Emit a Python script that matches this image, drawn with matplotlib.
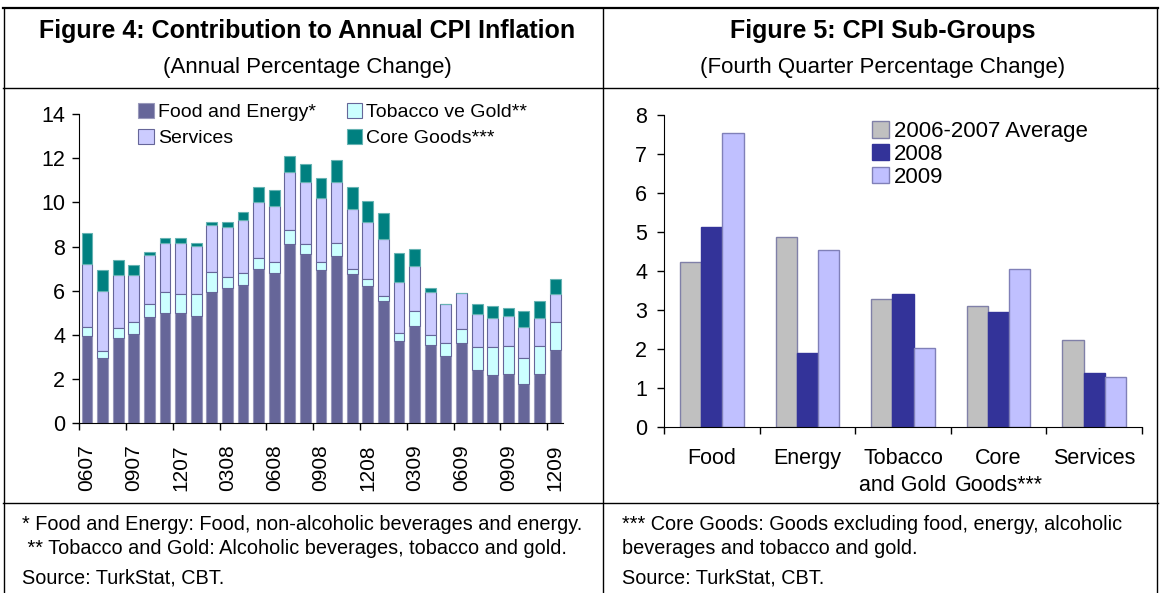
import numpy as np
import matplotlib
matplotlib.use('Agg')
import matplotlib.pyplot as plt
from matplotlib.lines import Line2D

plt.rcParams['font.family'] = ['Liberation Sans', 'DejaVu Sans']

# Figure 4 data: monthly contributions, 06/2007 - 12/2009
months = ['0607', '0707', '0807', '0907', '1007', '1107', '1207', '0108', '0208', '0308',
          '0408', '0508', '0608', '0708', '0808', '0908', '1008', '1108', '1208', '0109',
          '0209', '0309', '0409', '0509', '0609', '0709', '0809', '0909', '1009', '1109', '1209']
food_energy = [3.95, 2.97, 3.86, 4.03, 4.83, 4.98, 4.98, 4.87, 5.96, 6.11, 6.26, 6.98, 6.79, 8.11, 7.65, 6.94,
               7.57, 6.74, 6.21, 5.55, 3.74, 4.42, 3.53, 3.06, 3.62, 2.41, 2.19, 2.25, 1.78, 2.25, 3.32]
tobacco_gold = [0.42, 0.32, 0.47, 0.54, 0.55, 0.96, 0.86, 0.98, 0.87, 0.53, 0.56, 0.49, 0.53, 0.64, 0.45, 0.38,
                0.60, 0.23, 0.31, 0.23, 0.33, 0.65, 0.47, 0.56, 0.63, 1.03, 1.25, 1.26, 1.19, 1.26, 1.25]
services = [2.84, 2.71, 2.38, 2.14, 2.25, 2.23, 2.33, 2.17, 2.16, 2.26, 2.38, 2.54, 2.53, 2.64, 2.80, 2.86,
            2.73, 2.73, 2.61, 2.56, 2.33, 2.06, 1.93, 1.76, 1.63, 1.51, 1.34, 1.36, 1.40, 1.27, 1.27]
core_goods = [1.42, 0.94, 0.70, 0.45, 0.11, 0.22, 0.22, 0.12, 0.12, 0.21, 0.38, 0.70, 0.71, 0.71, 0.83, 0.94,
              1.02, 1.01, 0.95, 1.16, 1.32, 0.74, 0.19, 0.00, 0.00, 0.45, 0.54, 0.36, 0.71, 0.77, 0.69]

# Figure 5 data
groups = ['Food', 'Energy', 'Tobacco\nand Gold', 'Core\nGoods***', 'Services']
avg_0607 = [4.22, 4.87, 3.27, 3.09, 2.22]
y2008 = [5.12, 1.88, 3.40, 2.94, 1.39]
y2009 = [7.55, 4.53, 2.01, 4.06, 1.28]

fig = plt.figure(figsize=(11.61, 5.93), dpi=100)

# ---- left chart ----
ax1 = fig.add_axes([0.0682, 0.2862, 0.4166, 0.5216])
x = np.arange(len(months))
w = 0.7
fe = np.array(food_energy)
tg = np.array(tobacco_gold)
sv = np.array(services)
cg = np.array(core_goods)
ax1.bar(x, fe, w, color='#666699', edgecolor='#9999bb', linewidth=0.8, label='Food and Energy*')
ax1.bar(x, sv, w, bottom=fe + tg, color='#ccccff', edgecolor='#666699', linewidth=0.8, label='Services')
ax1.bar(x, tg, w, bottom=fe, color='#ccffff', edgecolor='#666699', linewidth=0.8, label='Tobacco ve Gold**')
ax1.bar(x, cg, w, bottom=fe + tg + sv, color='#008080', edgecolor='#66b3b3', linewidth=0.8, label='Core Goods***')
ax1.set_xlim(-0.5, 30.5)
ax1.set_ylim(0, 14)
ax1.set_yticks(range(0, 15, 2))
ax1.set_xticks(x[::3])
ax1.set_xticklabels(months[::3], rotation=90)
ax1.set_xticks(np.arange(-0.5, 30, 3), minor=True)
ax1.tick_params(axis='x', which='major', length=0, labelsize=15, pad=15)
ax1.tick_params(axis='x', which='minor', length=5, width=1)
ax1.tick_params(axis='y', length=5, width=1, labelsize=15.5, pad=5)
for s in ['top', 'right']:
    ax1.spines[s].set_visible(False)
ax1.legend(ncol=2, loc='upper left', bbox_to_anchor=(0.122, 1.035), frameon=False, fontsize=14,
           handlelength=0.8, handleheight=0.8, handletextpad=0.2, columnspacing=1.6, labelspacing=0.4,
           borderaxespad=0, borderpad=0)

# ---- right chart ----
ax2 = fig.add_axes([664 / 1161, 0.2804, 478 / 1161, 0.5256])
gx = np.arange(len(groups))
bw = 1 / 4.5
ax2.bar(gx - bw, avg_0607, bw, color='#c0c0c0', edgecolor='#8080a8', linewidth=1, label='2006-2007 Average')
ax2.bar(gx, y2008, bw, color='#333399', edgecolor='#333399', linewidth=1, label='2008')
ax2.bar(gx + bw, y2009, bw, color='#c0c0ff', edgecolor='#8080b8', linewidth=1, label='2009')
ax2.set_xlim(-0.5, 4.5)
ax2.set_ylim(0, 8)
ax2.set_yticks(range(0, 9))
ax2.set_xticks(gx)
ax2.set_xticklabels(groups, linespacing=1.4)
ax2.set_xticks(np.arange(-0.5, 5, 1), minor=True)
ax2.tick_params(axis='x', which='major', length=0, labelsize=15.5, pad=15)
ax2.tick_params(axis='x', which='minor', length=5, width=1)
ax2.tick_params(axis='y', length=5, width=1, labelsize=15.5, pad=7)
for s in ['top', 'right']:
    ax2.spines[s].set_visible(False)
ax2.legend(loc='upper left', bbox_to_anchor=(0.435, 0.98), frameon=False, fontsize=16,
           handlelength=0.75, handleheight=0.75, handletextpad=0.25, labelspacing=0.08,
           borderaxespad=0, borderpad=0)

# ---- table frame ----
W, H = 1161, 593
def hline(y, x0, x1, lw=1.0):
    fig.add_artist(Line2D([x0 / W, x1 / W], [1 - y / H, 1 - y / H], color='black', lw=lw))
def vline(x0, y0, y1, lw=1.0):
    fig.add_artist(Line2D([x0 / W, x0 / W], [1 - y0 / H, 1 - y1 / H], color='black', lw=lw))

hline(8, 3, 1158, lw=1.6)
hline(88, 3, 1158)
hline(503, 3, 1158)
vline(4, 8, 593)
vline(603, 8, 593)
vline(1157, 8, 593)

fig.text(307 / W, 1 - 31 / H, 'Figure 4: Contribution to Annual CPI Inflation', ha='center', va='center',
         fontsize=18, fontweight='bold')
fig.text(307 / W, 1 - 67 / H, '(Annual Percentage Change)', ha='center', va='center', fontsize=16)
fig.text(883 / W, 1 - 31 / H, 'Figure 5: CPI Sub-Groups', ha='center', va='center',
         fontsize=18, fontweight='bold')
fig.text(883 / W, 1 - 67 / H, '(Fourth Quarter Percentage Change)', ha='center', va='center', fontsize=16)

fs = 14.3
fig.text(22 / W, 1 - 525 / H, '* Food and Energy: Food, non-alcoholic beverages and energy.', va='center', fontsize=fs)
fig.text(22 / W, 1 - 549 / H, ' ** Tobacco and Gold: Alcoholic beverages, tobacco and gold.', va='center', fontsize=fs)
fig.text(22 / W, 1 - 578 / H, 'Source: TurkStat, CBT.', va='center', fontsize=fs)
fig.text(622 / W, 1 - 525 / H, '*** Core Goods: Goods excluding food, energy, alcoholic', va='center', fontsize=fs)
fig.text(622 / W, 1 - 549 / H, 'beverages and tobacco and gold.', va='center', fontsize=fs)
fig.text(622 / W, 1 - 578 / H, 'Source: TurkStat, CBT.', va='center', fontsize=fs)

fig.savefig('out.png', dpi=100)
